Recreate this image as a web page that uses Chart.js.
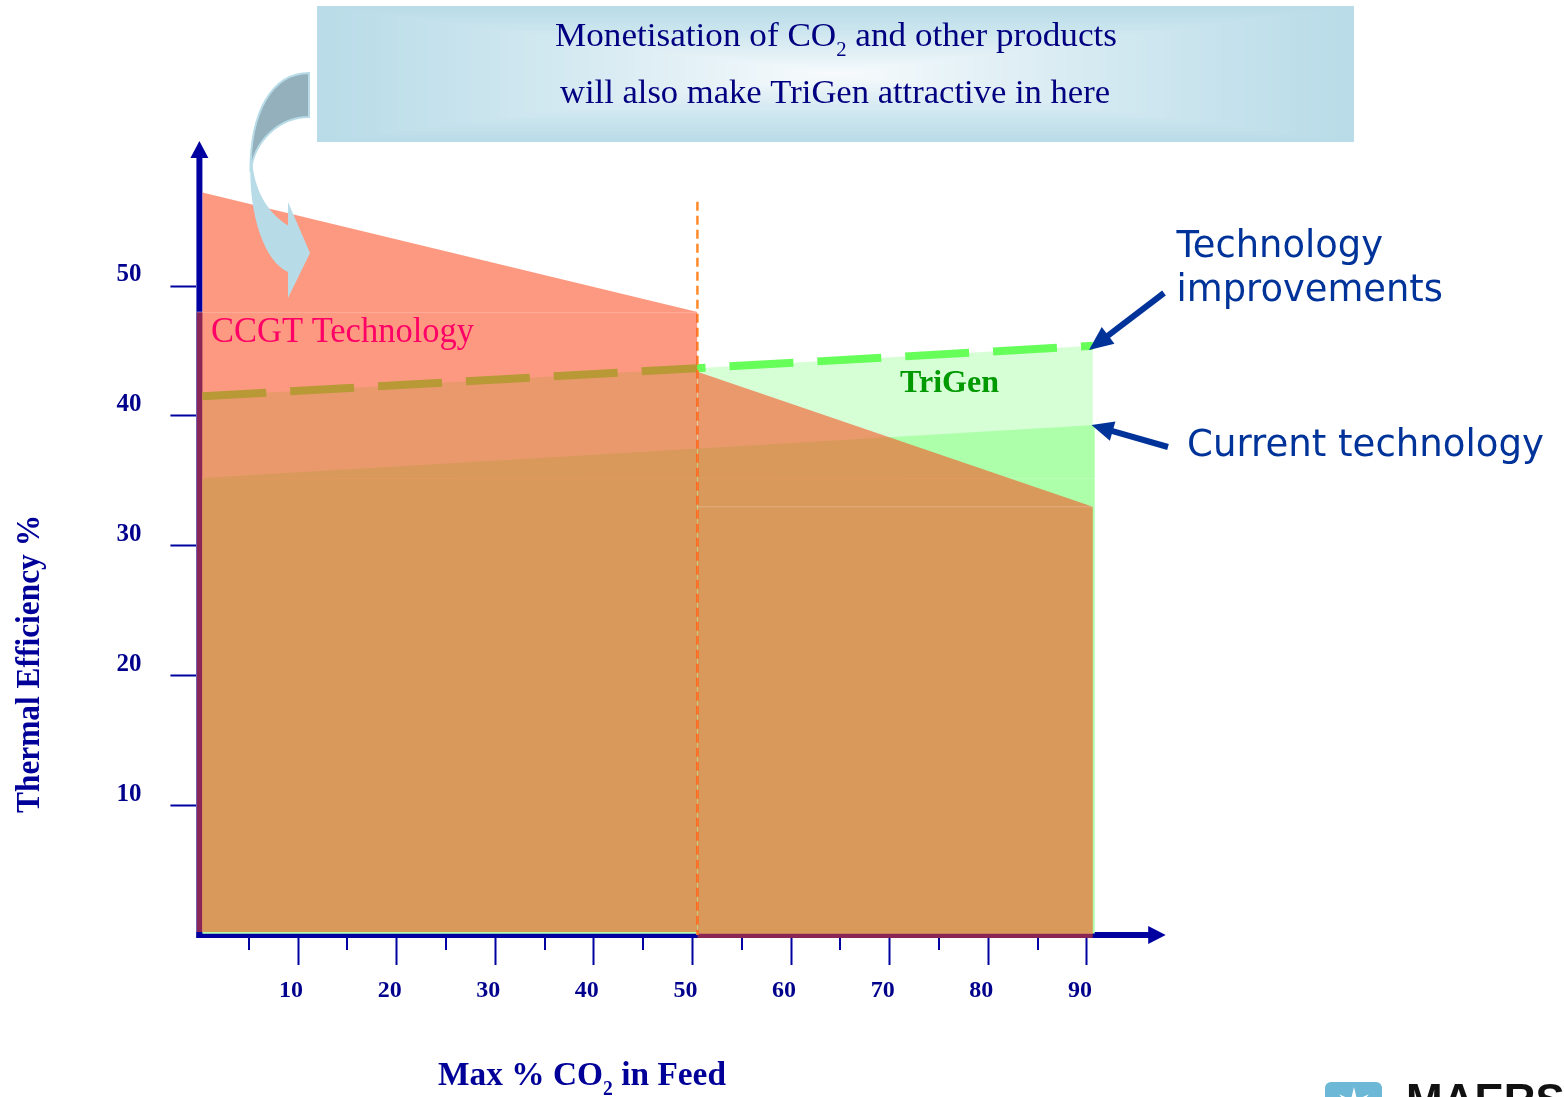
<!DOCTYPE html>
<html>
<head>
<meta charset="utf-8">
<title>Thermal efficiency vs max CO2 in feed</title>
<script src="https://cdn.jsdelivr.net/npm/chart.js@4.4.1/dist/chart.umd.min.js"></script>
<style>
  html, body { margin: 0; padding: 0; background: #ffffff; }
  canvas { display: block; }
</style>
</head>
<body>
<canvas id="chart" width="1564" height="1097"></canvas>
<script>
// ---- Data: x = max % CO2 in feed, y = thermal efficiency % ----
// CCGT envelope up to the 50 % CO2 cut-off (base block + upper wedge)
const ccgtLowX = [-0.3, 50.5];
const ccgtLowY = [48.0, 48.0];
const ccgtWedgeX = [0.3, 50.5];
const ccgtWedgeY = [57.2, 48.0];
// CCGT envelope beyond the cut-off (base block + declining wedge)
const ccgtHighX = [50.5, 90.6];
const ccgtHighY = [33.0, 33.0];
const ccgtHighWedgeX = [50.5, 90.6];
const ccgtHighWedgeY = [43.4, 33.0];
// TriGen: current technology and with technology improvements
const trigenCurrentX = [0.3, 90.8];
const trigenCurrentY = [35.2, 39.3];
const trigenBaseY = [35.2, 35.2];
const trigenImprovedX = [0.3, 90.6];
const trigenImprovedY = [41.5, 45.4];
// 50 % CO2 cut-off marker
const cutoffX = [50.5, 50.5];
const cutoffY = [56.5, 0];
// Axis ticks
const xTicks = [10, 20, 30, 40, 50, 60, 70, 80, 90];
const xMinorTicks = [5, 15, 25, 35, 45, 55, 65, 75, 85];
const yTicks = [10, 20, 30, 40, 50];

const AXIS = '#0000A0';
const SALMON = 'rgba(251, 70, 24, 0.55)';
const SEAM = 'rgba(255, 255, 255, 0.4)';

const pts = (xs, ys) => xs.map((x, i) => ({ x, y: ys[i] }));
const area = (xs, ys, fillTo, color, order, extra) => Object.assign({
  data: pts(xs, ys),
  fill: { value: fillTo },
  backgroundColor: color,
  borderColor: 'transparent',
  borderWidth: 0,
  pointRadius: 0,
  tension: 0,
  order
}, extra || {});

// Axis lines with arrowheads and the minor x ticks, drawn beneath the areas
function arrowLine(ctx, x1, y1, x2, y2, color, w, headLen, headW) {
  const a = Math.atan2(y2 - y1, x2 - x1);
  const bx = x2 - headLen * Math.cos(a), by = y2 - headLen * Math.sin(a);
  ctx.strokeStyle = color;
  ctx.lineWidth = w;
  ctx.lineCap = 'butt';
  ctx.beginPath();
  ctx.moveTo(x1, y1);
  ctx.lineTo(bx + Math.cos(a), by + Math.sin(a));
  ctx.stroke();
  ctx.fillStyle = color;
  ctx.beginPath();
  ctx.moveTo(x2, y2);
  ctx.lineTo(bx + headW / 2 * Math.sin(a), by - headW / 2 * Math.cos(a));
  ctx.lineTo(bx - headW / 2 * Math.sin(a), by + headW / 2 * Math.cos(a));
  ctx.closePath();
  ctx.fill();
}

const axesPlugin = {
  id: 'axesWithArrows',
  beforeDatasetsDraw(chart) {
    const { ctx, scales: { x, y }, chartArea } = chart;
    const x0 = x.getPixelForValue(0);
    const y0 = y.getPixelForValue(0);
    ctx.save();
    arrowLine(ctx, x0, y0 + 3, x0, 141, AXIS, 6, 17, 18);
    arrowLine(ctx, x0 - 3, y0, 1165.7, y0, AXIS, 6, 17.5, 18);
    ctx.strokeStyle = AXIS;
    ctx.lineWidth = 2;
    xMinorTicks.forEach(v => {
      const px = Math.round(x.getPixelForValue(v));
      ctx.beginPath();
      ctx.moveTo(px, chartArea.bottom);
      ctx.lineTo(px, chartArea.bottom + 12);
      ctx.stroke();
    });
    ctx.restore();
  }
};

// Draws runs of text (text, font, baseline shift) squeezed to a given width
function drawRuns(ctx, runs, x, y, width) {
  let total = 0;
  runs.forEach(r => { ctx.font = r[1]; total += ctx.measureText(r[0]).width; });
  const sx = width ? width / total : 1;
  ctx.save();
  ctx.translate(x, y);
  ctx.scale(sx, 1);
  ctx.textAlign = 'left';
  ctx.textBaseline = 'alphabetic';
  let cx = 0;
  runs.forEach(r => {
    ctx.font = r[1];
    ctx.fillText(r[0], cx, r[2] || 0);
    cx += ctx.measureText(r[0]).width;
  });
  ctx.restore();
}

function drawBanner(ctx) {
  const bx = 317, by = 6, bw = 1037, bh = 136;
  const edge = [185, 220, 232], mid = [248, 251, 253];
  const steps = 90;
  for (let i = 0; i <= steps; i++) {
    const t = i / steps;
    const f = Math.pow(t, 1.15);
    const c = edge.map((e, k) => Math.round(e + (mid[k] - e) * f));
    const ix = t * bw / 2, iy = t * bh / 2;
    ctx.fillStyle = `rgb(${c[0]},${c[1]},${c[2]})`;
    ctx.fillRect(bx + ix, by + iy, bw - 2 * ix, bh - 2 * iy);
  }
  ctx.fillStyle = '#000080';
  const f1 = '34px "Liberation Serif"', fs = '20px "Liberation Serif"';
  drawRuns(ctx, [['Monetisation of CO', f1], ['2', fs, 10], [' and other products', f1]], 555, 46, 562);
  drawRuns(ctx, [['will also make TriGen attractive in here', f1]], 560, 103, 550);
}

function drawCurvedArrow(ctx) {
  const light = '#B7DCE8', dark = '#94B0BC';
  ctx.save();
  ctx.fillStyle = light;
  ctx.beginPath();
  ctx.moveTo(250.5, 160);
  ctx.bezierCurveTo(248, 215, 265, 262, 288, 272);
  ctx.lineTo(288, 298);
  ctx.lineTo(310, 253);
  ctx.lineTo(288, 202);
  ctx.lineTo(288, 225.5);
  ctx.bezierCurveTo(270, 214, 256, 195, 252.5, 165);
  ctx.closePath();
  ctx.fill();
  ctx.fillStyle = dark;
  ctx.strokeStyle = light;
  ctx.lineWidth = 2;
  ctx.beginPath();
  ctx.moveTo(309, 73);
  ctx.bezierCurveTo(272, 73, 250, 112, 250.5, 172);
  ctx.bezierCurveTo(254, 140, 280, 117, 309, 117);
  ctx.closePath();
  ctx.fill();
  ctx.stroke();
  ctx.restore();
}

function drawLogo(ctx) {
  ctx.save();
  ctx.fillStyle = '#6DB8D6';
  ctx.beginPath();
  ctx.roundRect(1325, 1082, 57, 30, 6);
  ctx.fill();
  // seven-pointed star
  ctx.fillStyle = '#ffffff';
  ctx.beginPath();
  const cx = 1354, cy = 1106, ro = 19, ri = 7;
  for (let i = 0; i < 14; i++) {
    const r = i % 2 === 0 ? ro : ri;
    const a = -Math.PI / 2 + i * Math.PI / 7;
    const px = cx + r * Math.cos(a), py = cy + r * Math.sin(a);
    if (i === 0) ctx.moveTo(px, py); else ctx.lineTo(px, py);
  }
  ctx.closePath();
  ctx.fill();
  ctx.fillStyle = '#111111';
  ctx.font = 'bold 44px "Liberation Sans"';
  ctx.textAlign = 'left';
  ctx.textBaseline = 'alphabetic';
  ctx.fillText('MAERSK', 1406, 1115);
  ctx.restore();
}

const annotationsPlugin = {
  id: 'annotations',
  afterDatasetsDraw(chart) {
    const ctx = chart.ctx;
    ctx.save();
    drawCurvedArrow(ctx);

    // region labels
    ctx.fillStyle = '#FF0066';
    drawRuns(ctx, [['CCGT Technology', '35px "Liberation Serif"']], 211, 342, 263);
    ctx.fillStyle = '#009900';
    drawRuns(ctx, [['TriGen', 'bold 32px "Liberation Serif"']], 900, 392, 99);

    // callouts
    ctx.fillStyle = '#003399';
    const sans = '37px "DejaVu Sans"';
    drawRuns(ctx, [['Technology', sans]], 1176.5, 256.5, 206.5);
    drawRuns(ctx, [['improvements', sans]], 1176.5, 300.5, 266.5);
    drawRuns(ctx, [['Current technology', sans]], 1187, 456, 357);
    arrowLine(ctx, 1164, 293, 1089, 350, '#003399', 6, 24, 21);
    arrowLine(ctx, 1168, 447, 1091.5, 425, '#003399', 6, 22, 20);

    // axis titles
    ctx.fillStyle = '#000099';
    const tf = 'bold 34px "Liberation Serif"';
    drawRuns(ctx, [['Max % CO', tf], ['2', 'bold 20px "Liberation Serif"', 10], [' in Feed', tf]], 438, 1085, 288);
    ctx.save();
    ctx.translate(38.5, 813);
    ctx.rotate(-Math.PI / 2);
    drawRuns(ctx, [['Thermal Efficiency %', tf]], 0, 0, 298);
    ctx.restore();

    drawBanner(ctx);
    drawLogo(ctx);
    ctx.restore();
  }
};

const tickFont = size => ({ family: '"Liberation Serif"', size, weight: 'bold' });

new Chart(document.getElementById('chart'), {
  type: 'line',
  data: {
    datasets: [
      area(trigenImprovedX, trigenImprovedY, 0.12, '#D6FFD6', 9, {
        borderColor: '#66FF5A', borderWidth: 8, borderDash: [64, 24], borderCapStyle: 'butt'
      }),
      area(trigenCurrentX, trigenBaseY, 0.12, '#ADFFAA', 8, {
        borderColor: 'rgba(255,255,255,0.3)', borderWidth: 1
      }),
      area(trigenCurrentX, trigenCurrentY, trigenBaseY[0], '#ADFFAA', 7),
      {
        data: pts(cutoffX, cutoffY), fill: false, borderColor: '#FF8A2A',
        borderWidth: 2.5, borderDash: [9, 5], pointRadius: 0, tension: 0, order: 6
      },
      area(ccgtLowX, ccgtLowY, 0.23, SALMON, 4, { borderColor: SEAM, borderWidth: 1 }),
      area(ccgtWedgeX, ccgtWedgeY, ccgtLowY[0], SALMON, 3),
      area(ccgtHighX, ccgtHighY, -0.23, SALMON, 2, { borderColor: SEAM, borderWidth: 1 }),
      area(ccgtHighWedgeX, ccgtHighWedgeY, ccgtHighY[0], SALMON, 1)
    ]
  },
  options: {
    responsive: false,
    animation: false,
    events: [],
    layout: { padding: { top: 156.2, right: 415.9, bottom: 0, left: 0 } },
    plugins: { legend: { display: false }, tooltip: { enabled: false } },
    scales: {
      x: {
        type: 'linear', min: -0.3, max: 96.2,
        afterBuildTicks: axis => { axis.ticks = xTicks.map(v => ({ value: v })); },
        afterFit: scale => { scale.height = 159; },
        border: { display: false },
        grid: { drawOnChartArea: false, drawTicks: true, tickLength: 27, tickWidth: 2, tickColor: AXIS },
        ticks: {
          color: '#00008C', font: tickFont(24), padding: 11, labelOffset: -7,
          maxRotation: 0, autoSkip: false
        }
      },
      y: {
        type: 'linear', min: -0.23, max: 60,
        afterBuildTicks: axis => { axis.ticks = yTicks.map(v => ({ value: v })); },
        afterFit: scale => { scale.width = 196.44; },
        border: { display: false },
        grid: { drawOnChartArea: false, drawTicks: true, tickLength: 26, tickWidth: 2, tickColor: AXIS },
        ticks: {
          color: '#00008C', font: tickFont(25), padding: 29, labelOffset: -11,
          autoSkip: false
        }
      }
    }
  },
  plugins: [axesPlugin, annotationsPlugin]
});
</script>
</body>
</html>
